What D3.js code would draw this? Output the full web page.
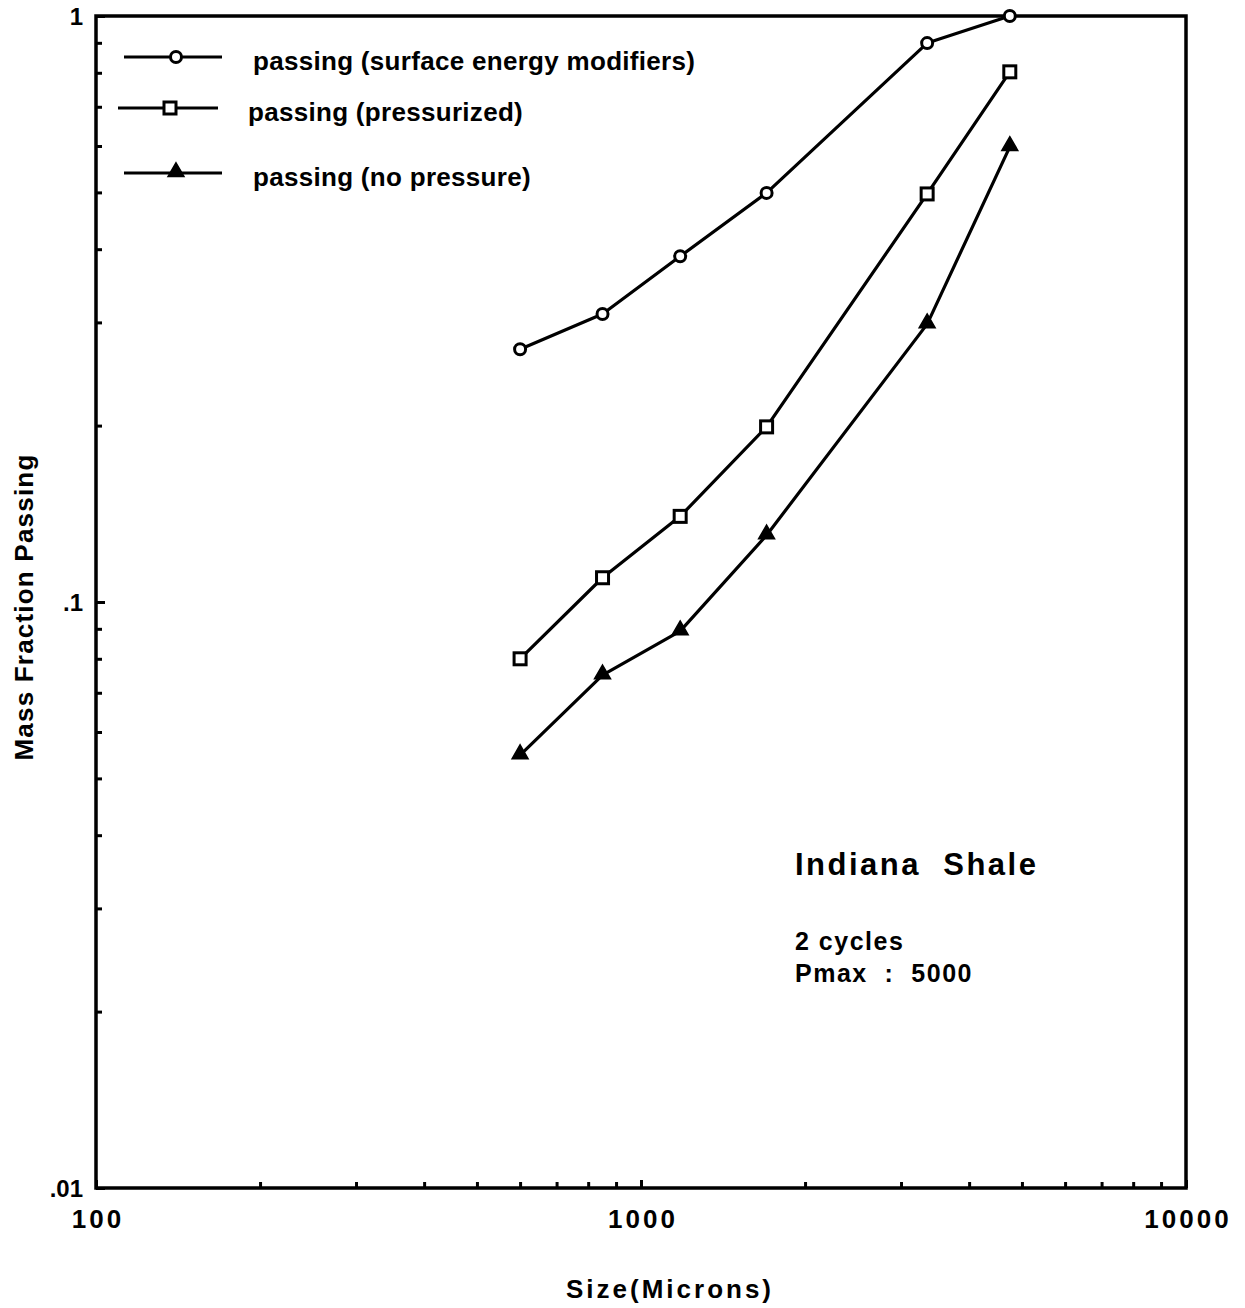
<!DOCTYPE html>
<html>
<head>
<meta charset="utf-8">
<script src="https://cdn.jsdelivr.net/npm/d3@7"></script>
<style>
  html, body { margin: 0; padding: 0; background: #fff; }
  svg { display: block; }
  text { font-family: "Liberation Sans", Arial, Helvetica, sans-serif; font-weight: bold; fill: #000; }
</style>
</head>
<body>
<svg id="chart" width="1245" height="1308"></svg>
<script>
// Sieve sizes (microns)
const sizes = [600, 850, 1180, 1700, 3350, 4750];

// Mass fraction passing for each treatment
const surfaceModifiers = [0.270, 0.310, 0.389, 0.499, 0.899, 1.0];
const pressurized      = [0.080, 0.110, 0.140, 0.199, 0.497, 0.803];
const noPressure       = [0.0548, 0.075, 0.0892, 0.130, 0.298, 0.598];

const seriesNames = [
  "passing (surface energy modifiers)",
  "passing (pressurized)",
  "passing (no pressure)"
];
const seriesValues = [surfaceModifiers, pressurized, noPressure];
const seriesSymbols = ["circle", "square", "triangle"];

const xTickLabels = ["100", "1000", "10000"];
const yTickLabels = ["1", ".1", ".01"];

const svg = d3.select("#chart");
const plotLeft = 96, plotRight = 1186, plotTop = 16, plotBottom = 1188;

const x = d3.scaleLog().domain([100, 10000]).range([plotLeft, plotRight]);
const y = d3.scaleLog().domain([0.01, 1]).range([plotBottom, plotTop]);

// Frame
svg.append("rect")
  .attr("x", plotLeft).attr("y", plotTop)
  .attr("width", plotRight - plotLeft).attr("height", plotBottom - plotTop)
  .attr("fill", "none").attr("stroke", "#000").attr("stroke-width", 3.5);

// Decade and sub-decade tick values
const logTicks = (lo, hi) => {
  const out = [];
  for (let d = lo; d < hi * 0.999; d *= 10) for (let k = 1; k < 10; k++) out.push(d * k);
  out.push(hi);
  return out;
};
const isDecade = v => Math.abs(Math.round(Math.log10(v)) - Math.log10(v)) < 1e-9;

const xAxis = d3.axisBottom(x).tickValues(logTicks(100, 10000)).tickSize(0).tickFormat("");
const gx = svg.append("g").attr("transform", `translate(0,${plotBottom})`).call(xAxis);
gx.select(".domain").remove();
gx.selectAll(".tick line").remove();
gx.selectAll(".tick").append("line")
  .attr("y1", 0).attr("y2", d => (isDecade(d) ? -8 : -6))
  .attr("stroke", "#000").attr("stroke-width", 3);

const yAxis = d3.axisLeft(y).tickValues(logTicks(0.01, 1)).tickSize(0).tickFormat("");
const gy = svg.append("g").attr("transform", `translate(${plotLeft},0)`).call(yAxis);
gy.select(".domain").remove();
gy.selectAll(".tick line").remove();
gy.selectAll(".tick").append("line")
  .attr("x1", 0).attr("x2", d => (isDecade(d) ? 9 : 6))
  .attr("stroke", "#000").attr("stroke-width", 3);

// Tick labels
const xMajor = [100, 1000, 10000];
svg.selectAll(".xlab").data(xMajor).enter().append("text")
  .attr("x", d => x(d) + 2).attr("y", 1228)
  .attr("text-anchor", "middle")
  .attr("font-size", 26).attr("letter-spacing", 3)
  .text((d, i) => xTickLabels[i]);

const yMajor = [1, 0.1, 0.01];
svg.selectAll(".ylab").data(yMajor).enter().append("text")
  .attr("x", plotLeft - 13).attr("y", d => y(d) + 9)
  .attr("text-anchor", "end")
  .attr("font-size", 24)
  .text((d, i) => yTickLabels[i]);

// Axis titles
svg.append("text")
  .attr("x", 670).attr("y", 1298)
  .attr("text-anchor", "middle")
  .attr("font-size", 26).attr("letter-spacing", 3)
  .text("Size(Microns)");

svg.append("text")
  .attr("transform", "translate(33,607) rotate(-90)")
  .attr("text-anchor", "middle")
  .attr("font-size", 26).attr("letter-spacing", 1.2)
  .text("Mass Fraction Passing");

// Marker drawing
function drawMarker(g, kind, cx, cy) {
  if (kind === "circle") {
    g.append("circle").attr("cx", cx).attr("cy", cy).attr("r", 5.5)
      .attr("fill", "#fff").attr("stroke", "#000").attr("stroke-width", 3);
  } else if (kind === "square") {
    g.append("rect").attr("x", cx - 6).attr("y", cy - 6).attr("width", 12).attr("height", 12)
      .attr("fill", "#fff").attr("stroke", "#000").attr("stroke-width", 3);
  } else {
    g.append("path")
      .attr("d", d3.symbol(d3.symbolTriangle, 110)())
      .attr("transform", `translate(${cx},${cy - 1})`)
      .attr("fill", "#000").attr("stroke", "#000").attr("stroke-width", 1.5);
  }
}

const line = d3.line().x(d => x(d[0])).y(d => y(d[1]));

seriesValues.forEach((vals, i) => {
  const pts = sizes.map((s, j) => [s, vals[j]]);
  const g = svg.append("g");
  g.append("path").attr("d", line(pts))
    .attr("fill", "none").attr("stroke", "#000").attr("stroke-width", 3.2)
    .attr("stroke-linejoin", "round");
  pts.forEach(p => drawMarker(g, seriesSymbols[i], x(p[0]), y(p[1])));
});

// Legend
const legendRows = [
  { y: 57, x1: 124, x2: 222, mx: 176, tx: 253 },
  { y: 108, x1: 118, x2: 218, mx: 170, tx: 248 },
  { y: 173, x1: 124, x2: 222, mx: 176, tx: 253 }
];
legendRows.forEach((r, i) => {
  const g = svg.append("g");
  g.append("line").attr("x1", r.x1).attr("x2", r.x2).attr("y1", r.y).attr("y2", r.y)
    .attr("stroke", "#000").attr("stroke-width", 3);
  drawMarker(g, seriesSymbols[i], r.mx, r.y);
  g.append("text").attr("x", r.tx).attr("y", r.y + 13)
    .attr("font-size", 26).attr("letter-spacing", 0.3)
    .text(seriesNames[i]);
});

// Annotation
svg.append("text").attr("x", 795).attr("y", 875)
  .attr("font-size", 31).attr("letter-spacing", 2.5)
  .attr("xml:space", "preserve")
  .text("Indiana  Shale");
svg.append("text").attr("x", 795).attr("y", 950)
  .attr("font-size", 25).attr("letter-spacing", 1.5)
  .text("2 cycles");
svg.append("text").attr("x", 795).attr("y", 982)
  .attr("font-size", 25).attr("letter-spacing", 1.5)
  .attr("xml:space", "preserve")
  .text("Pmax  :  5000");
</script>
</body>
</html>
